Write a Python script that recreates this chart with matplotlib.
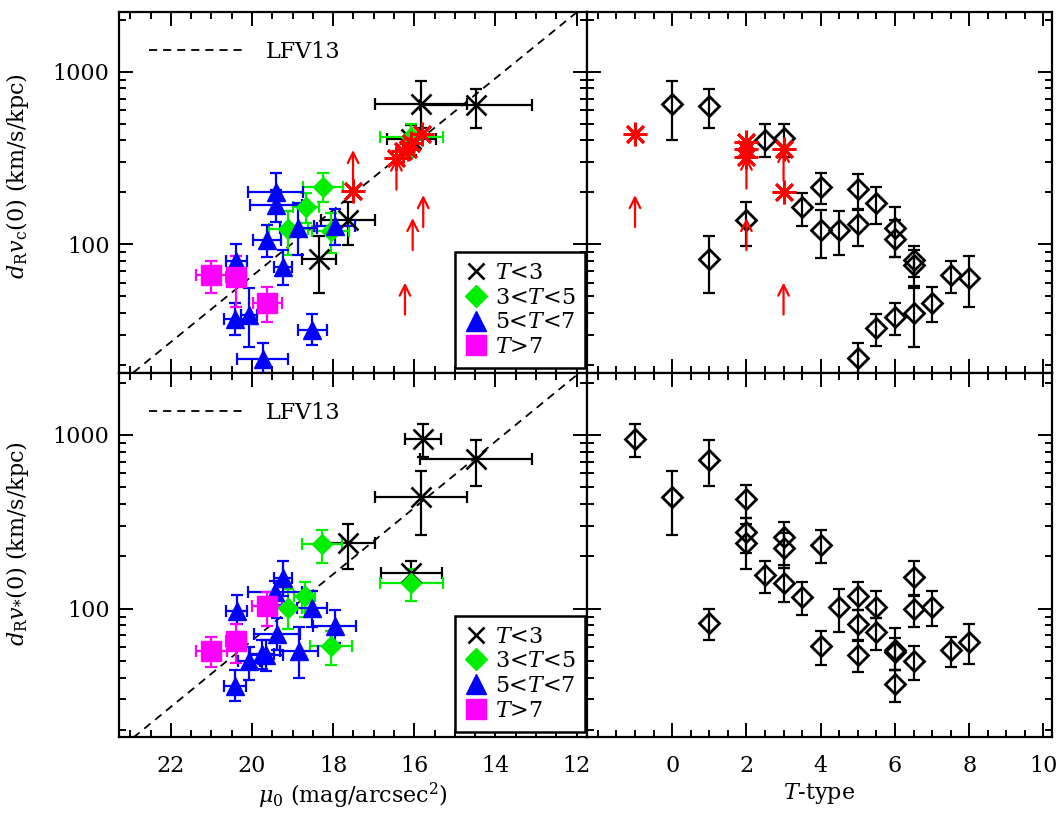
import numpy as np
import matplotlib
matplotlib.use("Agg")
import matplotlib.pyplot as plt
from matplotlib.lines import Line2D
from matplotlib.ticker import FixedLocator, LogLocator, MultipleLocator, NullFormatter, FixedFormatter

plt.rcParams['font.family'] = ['DejaVu Serif']
plt.rcParams['mathtext.fontset'] = 'dejavuserif'

## DATOS ################################################################
# Panel superior izquierdo: d_R v_c(0) vs mu_0
k_mu = [15.84, 14.48, 17.63, 18.35, 16.07]
k_mu_err = [1.13, 1.38, 0.66, 0.43, 0.60]
k_vc = [650, 638, 139, 82, 410]
k_vc_lo = [474, 474, 99, 52, 330]
k_vc_hi = [887, 791, 177, 112, 490]

g_mu = [18.25, 18.67, 19.11, 18.06, 16.07]
g_mu_err = [0.50, 0.32, 0.48, 0.45, 0.78]
g_vc = [216, 164, 123, 120, 420]
g_vc_lo = [177, 133, 87, 89, 322]
g_vc_hi = [258, 199, 155, 151, 500]

b_mu = [19.42, 19.40, 18.86, 17.96, 19.63, 19.24, 20.39, 20.42, 20.07, 18.51, 19.74]
b_mu_err = [0.67, 0.64, 0.45, 0.50, 0.35, 0.22, 0.26, 0.27, 0.20, 0.35, 0.63]
b_vc = [202, 169, 124, 128, 106, 74, 80, 37, 39, 32, 21.6]
b_vc_lo = [158, 135, 87, 99, 85, 58, 63, 29.9, 25.5, 26.1, 17.9]
b_vc_hi = [258, 207, 173, 161, 129, 93, 100, 45.5, 55.6, 39.5, 26.7]

m_mu = [21.0, 20.40, 19.62]
m_mu_err = [0.39, 0.25, 0.36]
m_vc = [66, 65, 46]
m_vc_lo = [52, 43.5, 35.6]
m_vc_hi = [80.5, 85.5, 56.4]

r_mu = [15.80, 16.07, 16.27, 16.44, 16.15, 17.51]
r_vc = [438, 388, 348, 318, 357, 205]
lim_mu = [17.51, 16.44, 15.78, 16.04, 16.23]
lim_vc = [352, 318, 193, 142, 60]

# Panel superior derecho: d_R v_c(0) vs T
d_t = [0, 1, 1, 2, 2.5, 3, 3.5, 4, 4, 4.5, 5, 5, 5.5, 6, 6, 6.5, 6.5, 5, 5.5, 6, 6.5, 7, 7.5, 8]
d_vc = [650, 636, 82, 138, 405, 411, 164, 216, 121, 121, 209, 131, 174, 125, 107, 81, 76,
        21.9, 32.7, 38, 40, 46, 66, 64]
d_vc_lo = [402, 474, 52, 98, 322, 322, 128, 171, 83, 87, 158, 98, 132, 85, 85, 65, 57,
           17.9, 25.8, 29.9, 25.3, 35.6, 52, 43.2]
d_vc_hi = [887, 794, 112, 177, 497, 497, 199, 258, 158, 155, 255, 161, 216, 165, 138, 98, 93,
           26.7, 39.5, 45.5, 55.6, 56.4, 80.5, 85.5]
r_t = [-1, 2, 2, 2, 3, 3]
r_t_vc = [436, 394, 358, 322, 357, 202]
lim_t = [3, 2, -1, 2, 3]
lim_t_vc = [357, 322, 193, 142, 60]

# Panel inferior izquierdo: d_R v_*(0) vs mu_0
ks_mu = [15.78, 14.48, 15.84, 17.63, 16.07]
ks_mu_err = [0.44, 1.38, 1.14, 0.66, 0.75]
ks_v = [944, 724, 439, 239, 161]
ks_lo = [750, 508, 265, 168, 135]
ks_hi = [1153, 931, 620, 305, 187]

gs_mu = [18.27, 16.07, 18.70, 19.11, 18.05]
gs_mu_err = [0.50, 0.78, 0.26, 0.35, 0.51]
gs_v = [234, 141, 118, 101, 61]
gs_lo = [183, 110, 90, 76, 47.5]
gs_hi = [282, 169, 143, 130, 74]

bs_mu = [19.23, 19.44, 20.38, 18.52, 17.96, 19.39, 18.84, 19.66, 19.76, 20.07, 20.42]
bs_mu_err = [0.22, 0.67, 0.26, 0.36, 0.53, 0.57, 0.47, 0.42, 0.30, 0.27, 0.27]
bs_v = [150, 124, 97, 101, 79, 71, 57, 54, 55, 50, 36]
bs_lo = [118, 105, 81, 78, 63.4, 58, 39.8, 43.5, 45, 38.9, 29.2]
bs_hi = [189, 145, 119, 126, 98.6, 88, 78, 66, 66, 59.8, 44.5]

ms_mu = [19.63, 20.40, 21.0]
ms_mu_err = [0.36, 0.25, 0.39]
ms_v = [103, 65, 57]
ms_lo = [79, 48.6, 46]
ms_hi = [124, 81, 69]

# Panel inferior derecho: d_R v_*(0) vs T
ds_t = [-1, 0, 1, 1, 2, 2, 2, 2.5, 3, 3, 3, 3.5, 4, 4, 4.5, 5, 5, 5, 5.5, 5.5,
        6, 6, 6, 6.5, 6.5, 6.5, 7, 7.5, 8]
ds_v = [944, 439, 718, 83, 425, 275, 239, 156, 258, 224, 141, 117, 232, 61, 102, 118, 81, 54,
        102, 73, 58, 56, 37, 152, 100, 50, 102, 58, 64]
ds_lo = [750, 265, 508, 66, 334, 209, 168, 123, 172, 178, 109, 91.6, 183, 47.5, 73, 98.6, 65, 43,
         88, 58, 44.5, 44.5, 29, 118, 78, 38.9, 79, 46, 48]
ds_hi = [1153, 620, 931, 100, 515, 334, 305, 189, 315, 273, 172, 143, 282, 74, 130, 143, 98.6, 65.5,
         126, 88, 77, 67.8, 44.5, 189, 119, 60.7, 126, 69, 81]

# Relacion LFV13: log10(d_R v(0)) = A + B * mu_0
lfv_a = 5.636
lfv_b = -0.191
#########################################################################

fs = 16
fig = plt.figure(figsize=(10.57, 8.15), dpi=100)
ax_tl = fig.add_axes([0.1129, 0.5423, 0.4422, 0.4433])
ax_tr = fig.add_axes([0.5551, 0.5423, 0.4402, 0.4433])
ax_bl = fig.add_axes([0.1129, 0.0961, 0.4422, 0.4462])
ax_br = fig.add_axes([0.5551, 0.0961, 0.4402, 0.4462])

ebkw = dict(fmt='none', elinewidth=1.6, capsize=4.5, capthick=1.6)


def grupo(ax, x, xerr, y, lo, hi, color, marker, ms, z):
    y = np.array(y, float)
    yerr = [y - np.array(lo), np.array(hi) - y]
    ax.errorbar(x, y, xerr=xerr, yerr=yerr, ecolor=color, zorder=z, **ebkw)
    if marker == 'x':
        ax.plot(x, y, ls='none', marker='x', ms=ms, mec=color, mew=1.9, zorder=z + 0.5)
    else:
        ax.plot(x, y, ls='none', marker=marker, ms=ms, mfc=color, mec=color, zorder=z + 0.5)


def flechas(ax, x, y):
    for xi, yi in zip(x, y):
        ax.annotate('', xy=(xi, yi), xytext=(0, -23), textcoords='offset points',
                    arrowprops=dict(arrowstyle='->', color='red', lw=1.6,
                                    mutation_scale=19, shrinkA=0, shrinkB=0), zorder=6)


# Superior izquierdo
grupo(ax_tl, k_mu, k_mu_err, k_vc, k_vc_lo, k_vc_hi, 'k', 'x', 14, 3)
grupo(ax_tl, g_mu, g_mu_err, g_vc, g_vc_lo, g_vc_hi, '#00ee00', 'D', 10, 3.1)
grupo(ax_tl, b_mu, b_mu_err, b_vc, b_vc_lo, b_vc_hi, 'blue', '^', 13, 3.2)
grupo(ax_tl, m_mu, m_mu_err, m_vc, m_vc_lo, m_vc_hi, 'magenta', 's', 15, 3.3)
ax_tl.plot(r_mu, r_vc, ls='none', marker=(8, 2, 0), ms=17, mec='red', mew=2.0, zorder=5)
flechas(ax_tl, lim_mu, lim_vc)

# Inferior izquierdo
grupo(ax_bl, ks_mu, ks_mu_err, ks_v, ks_lo, ks_hi, 'k', 'x', 14, 3)
grupo(ax_bl, gs_mu, gs_mu_err, gs_v, gs_lo, gs_hi, '#00ee00', 'D', 10, 3.1)
grupo(ax_bl, bs_mu, bs_mu_err, bs_v, bs_lo, bs_hi, 'blue', '^', 13, 3.2)
grupo(ax_bl, ms_mu, ms_mu_err, ms_v, ms_lo, ms_hi, 'magenta', 's', 15, 3.3)

# Derechos
for ax, t, v, lo, hi in [(ax_tr, d_t, d_vc, d_vc_lo, d_vc_hi), (ax_br, ds_t, ds_v, ds_lo, ds_hi)]:
    v = np.array(v, float)
    ax.errorbar(t, v, yerr=[v - np.array(lo), np.array(hi) - v], ecolor='k', zorder=3, **ebkw)
    ax.plot(t, v, ls='none', marker='D', ms=10.5, mfc='none', mec='k', mew=2.0, zorder=4)
ax_tr.plot(r_t, r_t_vc, ls='none', marker=(8, 2, 0), ms=17, mec='red', mew=2.0, zorder=5)
flechas(ax_tr, lim_t, lim_t_vc)

# Linea LFV13 y leyendas
mu_line = np.linspace(24, 11, 50)
for ax in (ax_tl, ax_bl):
    ln, = ax.plot(mu_line, 10 ** (lfv_a + lfv_b * mu_line), color='k', lw=1.3,
                  dashes=(4.5, 3.3), zorder=2)
    leg1 = ax.legend([ln], ['LFV13'], loc='upper left', frameon=False, fontsize=fs,
                     handlelength=4.3, handletextpad=0.95, bbox_to_anchor=(0.02, 0.975))
    ax.add_artist(leg1)
    hs = [Line2D([], [], ls='none', marker='x', ms=12, mec='k', mew=1.9),
          Line2D([], [], ls='none', marker='D', ms=11, mfc='#00ee00', mec='#00ee00'),
          Line2D([], [], ls='none', marker='^', ms=14, mfc='blue', mec='blue'),
          Line2D([], [], ls='none', marker='s', ms=15, mfc='magenta', mec='magenta')]
    leg2 = ax.legend(hs, [r'$T$<3', r'3<$T$<5', r'5<$T$<7', r'$T$>7'], loc='lower right',
                     bbox_to_anchor=(0.997, 0.014), borderaxespad=0.0, fontsize=fs,
                     fancybox=False, edgecolor='k', framealpha=1, handlelength=1.0,
                     handletextpad=0.35, labelspacing=0.12, borderpad=0.45)
    leg2.get_frame().set_linewidth(1.8)
    leg2.set_zorder(8)

# Ejes
for ax in (ax_tl, ax_tr):
    ax.set_ylim(17.96, 2228)
for ax in (ax_bl, ax_br):
    ax.set_ylim(18.3, 2270)
for ax in (ax_tl, ax_bl):
    ax.set_xlim(23.27, 11.75)
for ax in (ax_tr, ax_br):
    ax.set_xlim(-2.3, 10.23)

for ax in (ax_tl, ax_tr, ax_bl, ax_br):
    ax.set_yscale('log')
    ax.yaxis.set_major_locator(FixedLocator([100, 1000]))
    ax.yaxis.set_minor_locator(LogLocator(base=10, subs=np.arange(2, 10)))
    ax.yaxis.set_minor_formatter(NullFormatter())
    ax.xaxis.set_major_locator(MultipleLocator(2))
    ax.xaxis.set_minor_locator(MultipleLocator(0.5))
    ax.tick_params(which='both', direction='in', top=True, right=True, width=1.4, labelsize=fs)
    ax.tick_params(which='major', length=10)
    ax.tick_params(which='minor', length=5)
    ax.tick_params(axis='x', pad=13)
    ax.tick_params(axis='y', pad=7)
    for s in ax.spines.values():
        s.set_linewidth(1.6)

for ax in (ax_tl, ax_bl):
    ax.yaxis.set_major_formatter(FixedFormatter(['100', '1000']))
for ax in (ax_tr, ax_br):
    ax.tick_params(axis='y', labelleft=False)
for ax in (ax_tl, ax_tr):
    ax.tick_params(axis='x', labelbottom=False)

ax_bl.set_xticks([22, 20, 18, 16, 14, 12])
ax_bl.set_xticklabels(['22', '20', '18', '16', '14', '12'])
ax_br.set_xticks([0, 2, 4, 6, 8, 10])
ax_br.set_xticklabels(['0', '2', '4', '6', '8', '10'])
ax_tl.set_xticks([22, 20, 18, 16, 14, 12])
ax_tr.set_xticks([0, 2, 4, 6, 8, 10])

ax_tl.set_ylabel(r'$d_{\rm R}v_{\rm c}$(0) (km/s/kpc)', fontsize=fs)
ax_bl.set_ylabel(r'$d_{\rm R}v_{*}$(0) (km/s/kpc)', fontsize=fs)
ax_tl.yaxis.set_label_coords(-0.19, 0.545)
ax_bl.yaxis.set_label_coords(-0.19, 0.53)
ax_bl.set_xlabel(r'$\mu_0$ (mag/arcsec$^2$)', fontsize=fs, labelpad=3)
ax_br.set_xlabel(r'$T$-type', fontsize=fs, labelpad=3)

fig.savefig('out.png', dpi=100)
